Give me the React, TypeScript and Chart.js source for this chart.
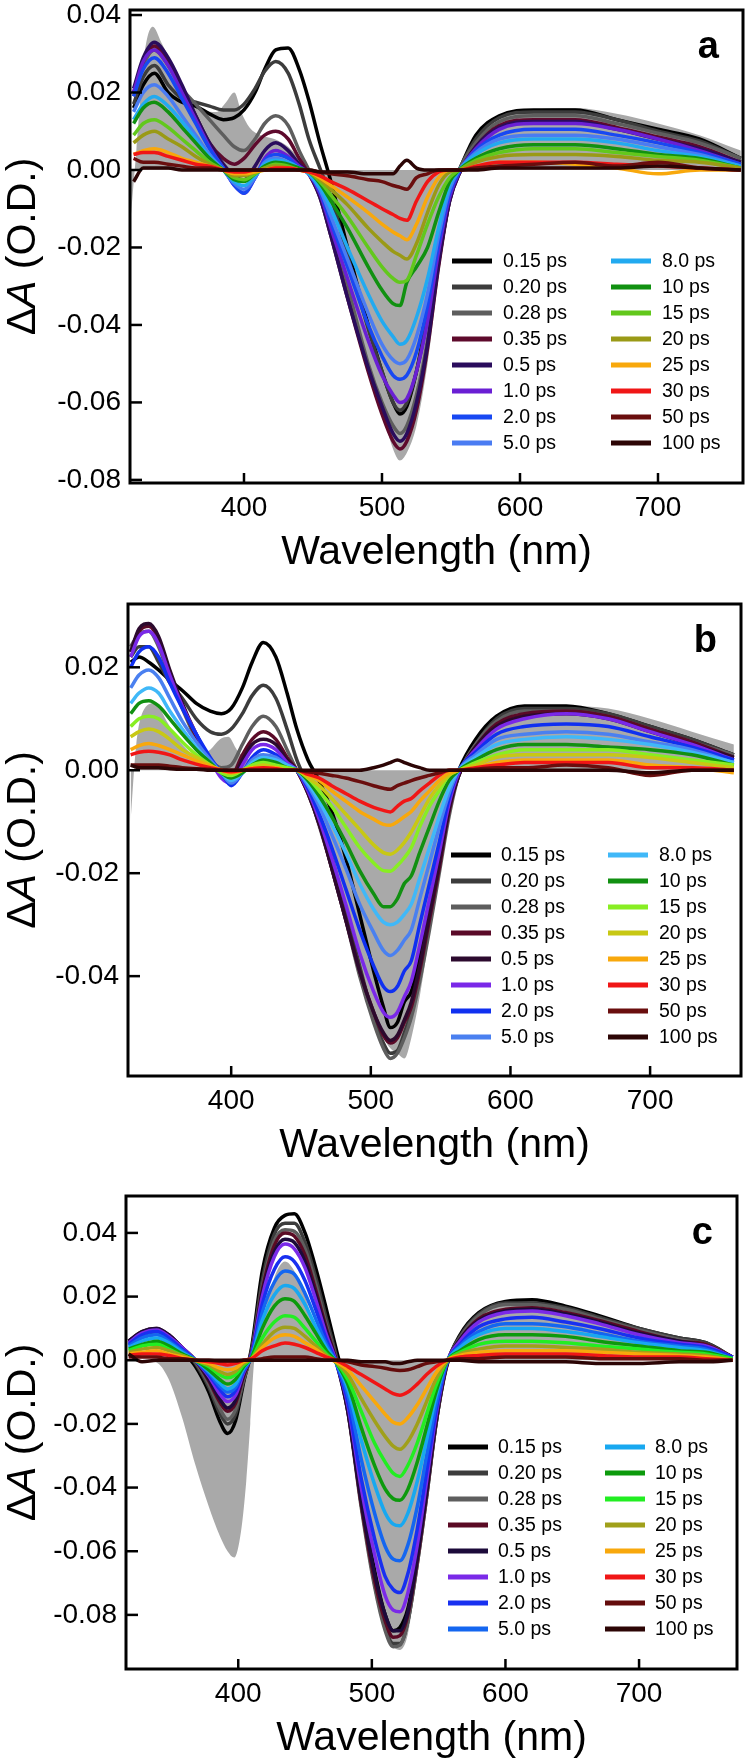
import { useEffect, useRef } from 'react';
import { Chart, registerables } from 'chart.js';

Chart.register(...registerables);

const FONT = '"Liberation Sans", Arial, Helvetica, sans-serif';
const PAGE_W = 750;
const PAGE_H = 1761;

// Pump-probe delays shown in every panel
const DELAYS = ['0.15 ps', '0.20 ps', '0.28 ps', '0.35 ps', '0.5 ps', '1.0 ps', '2.0 ps', '5.0 ps',
  '8.0 ps', '10 ps', '15 ps', '20 ps', '25 ps', '30 ps', '50 ps', '100 ps'];

const X_TICKS = [400, 500, 600, 700];
const Y_TICKS_A = [0.04, 0.02, 0, -0.02, -0.04, -0.06, -0.08];
const Y_TICKS_B = [0.02, 0, -0.02, -0.04];
const Y_TICKS_C = [0.04, 0.02, 0, -0.02, -0.04, -0.06, -0.08];

// ---------- panel a (values in mOD) ----------
const A_WL = [320, 327, 335, 345, 355, 365, 375, 385, 393, 400, 408, 415, 423, 432, 440, 447, 455, 463, 475, 490, 500, 508, 513, 518, 525, 533, 541, 549, 556, 568, 585, 610, 640, 670, 700, 730, 760];
const a_015 = [16, 22, 25, 20, 17.5, 16.5, 14.5, 13, 13.5, 15.5, 20, 26, 31, 31.5, 26, 18, 7, -3, -20, -40, -52, -60, -63, -61, -52, -37, -19, -6, 0, 9, 14, 15.5, 15.5, 13, 10.5, 8, 3];
const a_020 = [17, 24, 27, 22, 18.5, 17.5, 16.5, 15.5, 15.5, 17, 21, 25.5, 28, 25, 17, 8, 0.5, -7, -22, -41, -52, -60, -62, -60, -52, -38, -20, -6, 0, 8, 13.5, 15, 15, 13, 10, 7.5, 3];
const a_028 = [19, 27, 31, 27, 21, 17, 13, 9, 6, 5, 8, 12, 14, 11.5, 5, 0, -6, -15, -30, -50, -60, -66, -68, -66, -58, -44, -24, -8, 0, 7, 12.5, 14, 14, 12, 9.5, 7, 3];
const a_035 = [20, 28, 32, 28, 21, 14, 7, 3, 1.5, 3, 6.5, 9, 10, 8, 3, -1, -7, -17, -33, -52, -63, -70, -72, -70, -62, -46, -25, -8, -1, 6, 11.5, 13, 13, 11, 8.5, 6, 2];
const a_05 = [21, 29, 33, 29, 22, 14, 7, 1.5, -1.5, -2.5, 1, 5, 7, 5, 1.5, -1, -7, -17, -33, -51, -61, -68, -70, -68, -60, -45, -24, -8, -1, 6, 11, 12.5, 12.5, 10.5, 8, 5.5, 2];
const a_1 = [20, 28, 31, 27, 20, 13, 6, 0.5, -4, -6, -2, 3, 5, 3.5, 1, -1, -6, -15, -28, -44, -53, -58, -60, -59, -52, -39, -21, -7, -0.5, 5.5, 10.5, 12, 12, 10.5, 8, 5, 1.5];
const a_2 = [19, 26, 29, 25, 18.5, 12, 5.5, 0.5, -4, -6, -2, 2.5, 4, 3, 0.5, -1, -5.5, -13.5, -25, -40, -48, -53, -54, -53, -47, -35, -19, -6, -0.5, 5, 9, 10.5, 10.5, 9, 7, 4.5, 1.5];
const a_5 = [15, 20, 22, 19, 14, 9, 4, 0, -3.5, -5, -2, 2, 3, 2, 0.5, -1, -5, -12, -23, -37, -45, -49, -50, -49, -43, -32, -17, -5, 0, 4.5, 8, 9, 9, 8, 6, 4, 1];
const a_8 = [13, 17, 19, 16.5, 12.5, 8, 3.5, 0, -3, -4, -1.5, 1.5, 2.5, 2, 0.5, -1, -4.5, -10, -20, -32, -39, -43, -45, -44, -38, -28, -15, -4, 0, 4, 7, 8, 8, 7, 5, 3.5, 1];
const a_10 = [12, 16, 17.5, 15, 11, 7, 3, 0, -2.5, -3, -1, 1, 2, 1.5, 0.5, -0.5, -3.5, -8, -15, -25, -31, -34.5, -35, -29, -25, -20, -11, -3, 0, 3, 5.5, 6.5, 6.5, 5.5, 4, 3, 0.5];
const a_15 = [9, 12, 13, 11, 8, 5, 2, 0, -2, -2.5, -1, 0.5, 1.5, 1, 0, -0.5, -3, -6.5, -12, -20, -25, -28, -29, -28.5, -22, -14, -7, -2, 0, 2.5, 4.5, 5.5, 5.5, 4.5, 3.5, 2.5, 0.5];
const a_20 = [7, 9, 10, 8, 6, 3.5, 1.5, 0, -1.5, -1.5, -0.5, 0.5, 1, 0.5, 0, -0.5, -2.5, -5, -9, -15, -18.5, -21, -22, -23, -19, -11, -4, -0.5, 0, 2, 3.5, 4, 4, 3.5, 2.5, 2, 0.5];
const a_25 = [4, 5, 5.5, 4.5, 3, 2, 1, 0, -1, -1, -0.5, 0, 0.5, 0.5, 0, -0.5, -2, -4, -7, -11, -14, -16, -17, -18, -14, -7, -2, 0, 0, 1, 2, 2, 1.5, 0.5, -1, 0, 0];
const a_30 = [4, 4.5, 4.5, 3.5, 2.5, 1.5, 1, 0, -0.5, -0.5, 0, 0, 0.5, 0.5, 0, -0.5, -1.5, -3, -5, -8, -10, -11.5, -12.5, -13, -8, -3, -0.5, 0, 0, 1, 2, 2, 2, 1.5, 1, 0.5, 0];
const a_50 = [3, 2, 2, 1.5, 1, 0.5, 0.5, 0, 0, 0, 0, 0, 0, 0, 0, 0, -0.5, -1, -1.5, -2.5, -3, -4, -4.5, -5, -2, -1, 0, 0, 0, 0.5, 1, 1.5, 2, 1, 2, 0.5, 0];
const a_100 = [-3, 0.5, 0.5, 0.5, 0, 0, 0, 0, 0, 0, 0, 0, 0, 0, 0, 0, -0.5, -0.5, -0.5, -1, -1, -1, 1, 2.5, 0.5, 0, 0, 0, 0, 0, 0.5, 0.5, 0.5, 0.5, 1, 0.5, 0];
// steady-state reference drawn as grey area
const A_GS_WL = [318, 322, 328, 334, 340, 350, 360, 370, 380, 387, 393, 398, 404, 412, 422, 432, 440, 447, 455, 463, 475, 490, 500, 508, 513, 518, 525, 533, 541, 549, 556, 568, 585, 610, 640, 670, 700, 730, 760];
const A_GS = [-12, 5, 30, 37, 33, 26, 19, 15.5, 15, 17.5, 20, 15, 11, 9, 8, 6, 3, 0, -6, -14, -29, -50, -62, -72, -75, -73, -66, -50, -28, -10, -1, 7, 13, 15.5, 16, 14.5, 12, 9, 5];

// ---------- panel b ----------
const B_WL = [328, 334, 341, 348, 356, 365, 375, 385, 393, 400, 408, 415, 423, 432, 440, 447, 455, 463, 472, 482, 492, 502, 509, 514, 519, 524, 529, 535, 542, 549, 556, 563, 575, 590, 610, 640, 670, 700, 730, 760];
const b_015 = [21, 22, 21, 19.5, 17.5, 15.5, 13, 11.5, 11, 12, 16, 21, 24.8, 22, 15, 8, 2, -2, -8, -17, -28, -39, -46, -50, -49, -45, -43, -36, -26, -16, -6, 0, 6, 10.5, 12.5, 12.5, 11, 8.5, 6, 3];
const b_020 = [22, 24, 24, 21, 17, 14, 10, 7.5, 7, 8, 11, 14.5, 16.5, 14, 8, 2, -3, -9, -17, -27, -38, -48, -53, -55, -54.5, -51, -47, -40, -30, -19, -8, -1, 5, 10, 12, 12, 11, 8.5, 6, 3];
const b_028 = [24, 26.5, 27, 24, 18, 12, 6, 2, 0.5, 1, 5, 8.5, 10.5, 8.5, 4, 0, -4, -10, -19, -29, -40, -49, -54, -56, -55, -52, -48, -41, -31, -20, -9, -1, 5, 9.5, 11.5, 11.5, 10.5, 8, 5.5, 3];
const b_035 = [23, 27, 28, 25.5, 19, 12.5, 6.5, 2, -0.5, -1, 3, 6, 7.5, 6, 2.5, 0, -4.5, -10.5, -19, -29, -39, -47, -51.5, -53, -52, -49, -46, -39, -29, -19, -8, -1, 4.5, 9, 11, 11.5, 10.5, 8, 5.5, 2.5];
const b_05 = [23, 27.5, 28.5, 26, 19.5, 13, 7, 2, -1, -2, 2, 5, 6, 5, 2, 0, -4.5, -10.5, -19, -29, -39, -47, -51, -52.5, -51.5, -48.5, -45, -38, -28, -18, -7.5, -1, 4.5, 8.5, 10.5, 11, 10, 7.5, 5, 2.5];
const b_1 = [22, 26, 27, 24.5, 18.5, 12.5, 7, 2, -1.5, -2.5, 1, 4, 5, 4, 1.5, 0, -4, -9.5, -17, -26, -35.5, -43, -47, -48, -47, -44, -41, -34, -25, -16, -6.5, -0.5, 4, 8, 10, 11, 10, 7.5, 5, 2];
const b_2 = [20, 23, 24, 22, 17, 12, 7, 2.5, -0.5, -3, -0.5, 2.5, 4, 3, 1, 0, -3.5, -8.5, -15, -23, -31, -38, -42, -43, -42, -39, -37, -30, -22, -14, -5.5, 0, 3.5, 7, 8.5, 9, 8.5, 6.5, 4.5, 2];
const b_5 = [16, 18.5, 19.5, 18, 14, 9.5, 5.5, 2, -0.5, -2.5, -0.5, 2, 3, 2.5, 1, 0, -3, -7, -12.5, -19, -26, -31.5, -35, -36, -35, -33, -31, -25, -18, -11, -4.5, 0, 3, 6, 7, 7.5, 7, 5.5, 4, 1.5];
const b_8 = [13, 15, 16, 15, 11.5, 8, 4.5, 1.5, -0.5, -2, -0.5, 1.5, 2.5, 2, 1, 0, -2.5, -6, -10.5, -16, -22, -27, -29.5, -30, -29.5, -28, -26, -21, -15, -9, -3.5, 0, 2.5, 5, 6, 6.5, 6, 5, 3.5, 1.5];
const b_10 = [11, 13, 13.5, 12.5, 10, 7, 4, 1.5, -0.5, -1.5, -0.5, 1, 2, 1.5, 0.5, 0, -2, -5, -9, -14, -19.5, -24, -26.5, -26.5, -25, -22, -20.5, -16, -11, -6, -2, 0, 2, 4, 5, 5, 4.5, 4, 3, 1];
const b_15 = [8.5, 10, 10.5, 10, 8, 5.5, 3, 1, -0.5, -1, 0, 1, 1.5, 1, 0.5, 0, -1.5, -4, -7, -11, -15, -18, -19.5, -19.6, -18.5, -17, -15, -11, -7, -4, -1, 0, 1.5, 3, 4, 4, 4, 3, 2, 1];
const b_20 = [6.5, 7.5, 8, 7.5, 6, 4, 2.5, 1, 0, -0.5, 0, 0.5, 1, 0.5, 0, 0, -1.5, -3, -5.5, -8.5, -11.5, -14.5, -16, -16.3, -15.5, -14, -12, -9, -5.5, -3, -1, 0, 1, 2.5, 3, 3, 3, 2.5, 1.5, 0.5];
const b_25 = [4, 4.8, 5.2, 4.8, 4, 3, 1.8, 0.8, 0, -0.5, 0, 0.5, 0.5, 0.5, 0, 0, -1, -2, -4, -6, -8, -9.5, -10.5, -10.7, -10, -9, -8, -6, -4, -2, -0.5, 0, 0.5, 1.5, 2, 2, 2, 1, 0.5, -0.5];
const b_30 = [3, 3.5, 3.7, 3.5, 3, 2, 1.2, 0.5, 0, -0.3, 0, 0.3, 0.5, 0.3, 0, 0, -0.8, -1.5, -3, -4.5, -6, -7.2, -7.8, -8.1, -7, -6, -5.5, -4, -2.5, -1, 0, 0, 0.5, 1, 1.5, 1.5, 1.5, 0.5, 0.5, 0];
const b_50 = [1, 1, 1, 1, 0.8, 0.5, 0.3, 0.2, 0, 0, 0, 0, 0, 0, 0, 0, -0.3, -0.6, -1, -1.5, -2.2, -3, -3.5, -3.7, -3, -2.5, -2, -1.5, -1, -0.5, 0, 0, 0.2, 0.5, 0.5, 1, 0.5, -1, 0, 0];
const b_100 = [1, 0.5, 0.5, 0.5, 0.3, 0.2, 0.2, 0, 0, 0, 0, 0, 0, 0, 0, 0, 0, 0, 0, 0, 0, 0.5, 1, 1.5, 2, 1.5, 1, 0.5, 0, 0, 0, 0, 0, 0, 0, 0, 0, -0.5, 0, 0];
const B_GS_WL = [328, 332, 338, 345, 355, 365, 375, 385, 392, 398, 404, 410, 420, 432, 440, 447, 455, 463, 472, 482, 492, 502, 509, 514, 519, 524, 529, 535, 542, 549, 556, 563, 575, 590, 610, 640, 670, 700, 730, 760];
const B_GS = [-10, 5, 12, 13, 9, 5, 3, 4, 6, 6.5, 4, 2.5, 1.5, 1, 0.5, 0, -5, -12, -20, -30, -40, -48, -52, -54, -55, -56, -52, -44, -32, -20, -8, 0, 6, 10.5, 12, 12.5, 12, 10, 7.5, 5];

// ---------- panel c ----------
const C_WL = [318, 328, 339, 348, 358, 368, 378, 386, 392, 398, 404, 410, 418, 427, 435, 442, 450, 458, 466, 473, 482, 492, 502, 510, 516, 521, 527, 534, 541, 548, 556, 566, 580, 600, 620, 645, 670, 700, 730, 750, 770];
const c_015 = [6, 8, 9, 7, 3, -2, -10, -19, -23, -19, -7, 4, 28, 41.5, 45.5, 46, 40, 29, 16, 4, -12, -42, -66, -80, -85, -84, -78, -62, -42, -20, -2, 8, 15, 18.5, 19, 17, 14, 10, 7, 5.5, 1];
const c_020 = [6, 8.5, 9.5, 7.5, 3.5, -1, -8.5, -16.5, -20, -17, -6.5, 3, 25, 39.5, 43, 43, 37, 26, 13, 2, -15, -45, -70, -84, -89, -89, -82, -64, -43, -20, -1.5, 7.5, 14.5, 18, 18, 16.5, 13.5, 10, 7, 5.5, 1];
const c_028 = [6, 8.5, 9.5, 7.5, 3.5, -0.5, -7.5, -15, -18.5, -15.5, -6, 2.5, 23, 37.5, 41, 40.5, 35, 24, 11, 1, -16, -46, -71, -85, -90, -89.5, -82, -64, -43, -20, -1.5, 7, 14, 17.5, 17.5, 16, 13, 9.5, 6.5, 5, 1];
const c_035 = [6, 9, 10, 8, 4, 0, -6.5, -13, -16, -13.5, -5, 2, 22, 36, 40, 39, 33, 22, 10, 0.5, -16, -45, -69, -82, -87, -86.5, -80, -63, -42, -19.5, -1.5, 6.5, 13, 16, 16.5, 15, 12.5, 9, 6, 5, 1];
const c_05 = [6, 9, 10, 8, 4, 0, -6, -12, -15, -12.5, -4.5, 2, 21, 34, 38, 37, 31, 20.5, 9, 0, -16, -44, -67, -80, -85, -85, -79, -62, -41, -19, -1.5, 6.5, 12.5, 15.5, 16, 14.5, 12, 8.5, 6, 4.5, 1];
const c_1 = [5.5, 8.5, 9.5, 7.5, 4, 0, -5, -10.5, -13, -11, -4, 2, 20, 32.5, 36.5, 35, 29, 19, 8, 0, -14, -40, -61, -74, -78.5, -79, -73, -58, -38, -17.5, -1, 6, 12, 15, 15.5, 14, 11.5, 8, 5.5, 4.5, 1];
const c_2 = [5, 8, 9, 7, 3.5, 0, -4.5, -9, -11.5, -9.5, -3.5, 1.5, 17.5, 28.5, 32.5, 31, 25, 16, 6.5, -0.5, -13, -37, -56, -68, -72, -73, -67, -53, -35, -16, -1, 5, 10.5, 13, 13.5, 12, 10, 7, 5, 4, 1];
const c_5 = [4.5, 7, 8, 6, 3, 0, -4, -8, -10, -8.5, -3, 1, 15, 24.5, 28, 27, 21, 13, 5, -0.5, -11, -31, -48, -58.5, -62.5, -63, -58, -46, -30, -14, -1, 4.5, 9, 11.5, 11.5, 10.5, 8.5, 6, 4.5, 3.5, 0.5];
const c_8 = [4, 6, 7, 5.5, 2.5, 0, -3.5, -7, -9, -7.5, -2.5, 1, 12.5, 20.5, 23.5, 22.5, 17.5, 10.5, 4, -0.5, -9, -25, -39, -48, -51.5, -52, -48, -38, -25, -11.5, -0.5, 4, 8, 10, 10, 9, 7.5, 5.5, 4, 3, 0.5];
const c_10 = [3.5, 5, 6, 4.5, 2, 0, -3, -6, -7.5, -6, -2, 1, 10, 17, 19.3, 18.5, 14, 8.5, 3, -0.5, -7.5, -21, -33, -40.5, -43.5, -44, -40.5, -32, -21, -10, -0.5, 3, 6.5, 8, 8, 7.5, 6, 4.5, 3, 2.5, 0.5];
const c_15 = [3, 4.5, 5, 3.5, 1.5, 0, -2, -4.5, -5.5, -4.5, -1.5, 0.5, 7, 12, 14, 13.5, 10, 6, 2, -0.5, -6, -16, -26, -32, -35.5, -36.5, -33, -26, -17, -8, -0.5, 2.5, 5, 6, 6, 5.5, 4.5, 3.5, 2.5, 2, 0.5];
const c_20 = [2.5, 3.5, 4, 3, 1.5, 0, -1.5, -3.5, -4.5, -3.5, -1, 0.5, 5, 9, 10.4, 10, 7.5, 4.5, 1.5, -0.5, -4.5, -12, -19, -24, -27, -28, -25.5, -20, -13, -6, -0.5, 2, 3.5, 4.5, 4.5, 4, 3.5, 2.5, 2, 1.5, 0];
const c_25 = [2, 2.5, 3, 2, 1, 0, -1, -2.5, -3, -2.5, -0.5, 0.5, 4, 7, 8, 7.5, 5.5, 3.5, 1, -0.5, -3, -8, -13, -17, -19.5, -20, -18, -14, -9, -4, 0, 1.5, 2.5, 3, 3, 3, 2.5, 2, 1.5, 1, 0];
const c_30 = [1.5, 2, 2, 1.5, 0.5, 0, -0.5, -1, -1.5, -1, 0, 0.5, 3, 4.5, 5.4, 5, 4, 2.5, 1, 0, -2, -4.5, -7, -9, -10.5, -11, -10, -7.5, -4.5, -2, 0, 1, 1.5, 2, 2, 2, 1.5, 1, 1, 0.5, 0];
const c_50 = [1, 1, 1, 0.5, 0.5, 0, 0, -0.3, -0.3, -0.3, 0, 0, 0.5, 1, 1, 1, 1, 0.5, 0, 0, -0.5, -1.5, -2, -2.5, -3, -3.2, -3, -2, -1, -0.5, 0, 0.5, 0.5, 1, 1, 1, 0.5, 0.5, 0.5, 0, 0];
const c_100 = [2, -0.5, 0, 0, 0, 0, 0, 0, 0, 0, 0, 0, 0, 0, 0, 0, 0, 0, 0, 0, 0, -0.5, -0.5, -0.5, -1, -1, -0.5, 0, 0, 0, 0, 0, -0.5, -0.5, -0.5, -0.5, -1, -1, -0.5, -0.5, 0];
const C_GS_WL = [318, 330, 340, 348, 358, 368, 378, 386, 392, 397, 402, 406, 409, 412, 418, 427, 435, 442, 450, 458, 466, 473, 482, 492, 502, 510, 516, 521, 527, 534, 541, 548, 556, 566, 580, 600, 620, 645, 670, 700, 730, 750, 770];
const C_GS = [0, 0, -1, -6, -18, -33, -46, -55, -60, -62, -54, -38, -20, 0, 12, 26, 31, 28, 20, 10, 3, -1, -18, -48, -72, -86, -90, -91, -86, -66, -44, -20, -1, 7, 14, 18, 18.5, 17, 14, 10, 7, 5, 1];

// trace colours, one per delay
const COLORS_A = ['#000000', '#3c3c3c', '#5e5e5e', '#5e0a2c', '#2a0c5c', '#6a1fd4', '#1848f2', '#4a7cf2',
  '#22aaf0', '#119111', '#62c81c', '#9a9a16', '#f8a80c', '#f01616', '#6a0e0e', '#2c0505'];
const COLORS_B = ['#000000', '#3c3c3c', '#5e5e5e', '#5a0a28', '#2c0a2e', '#7a28e8', '#1030f0', '#4a80f0',
  '#40b8f8', '#119011', '#88ee22', '#c8c814', '#f8a80c', '#f01616', '#6a0e0e', '#2c0505'];
const COLORS_C = ['#000000', '#3c3c3c', '#5e5e5e', '#5a0a24', '#1c0a3a', '#7a2ae8', '#1830f0', '#1466f0',
  '#18a8f0', '#0c9a0c', '#22ee22', '#a0a01a', '#f8a80c', '#f01616', '#640c0c', '#2c0505'];
const GS_COLOR = '#a9a9a9';

type Panel = {
  letter: string;
  wl: number[];
  series: number[][];
  colors: string[];
  gsWl: number[];
  gs: number[];
  yTicks: number[];
  xMin: number; xMax: number; yMin: number; yMax: number;
  top: number; bottom: number; left: number; right: number;
  legendX: [number, number, number, number];
};

const PANELS: Panel[] = [
  {
    letter: 'a', wl: A_WL,
    series: [a_015, a_020, a_028, a_035, a_05, a_1, a_2, a_5, a_8, a_10, a_15, a_20, a_25, a_30, a_50, a_100],
    colors: COLORS_A, gsWl: A_GS_WL, gs: A_GS, yTicks: Y_TICKS_A,
    xMin: 317.4, xMax: 761.6, yMin: -0.0808, yMax: 0.0413,
    top: 10, bottom: 483, left: 130, right: 743,
    legendX: [452, 503, 611, 662],
  },
  {
    letter: 'b', wl: B_WL,
    series: [b_015, b_020, b_028, b_035, b_05, b_1, b_2, b_5, b_8, b_10, b_15, b_20, b_25, b_30, b_50, b_100],
    colors: COLORS_B, gsWl: B_GS_WL, gs: B_GS, yTicks: Y_TICKS_B,
    xMin: 326.1, xMax: 765.1, yMin: -0.0594, yMax: 0.0323,
    top: 604, bottom: 1076, left: 128, right: 741,
    legendX: [451, 501, 608, 659],
  },
  {
    letter: 'c', wl: C_WL,
    series: [c_015, c_020, c_028, c_035, c_05, c_1, c_2, c_5, c_8, c_10, c_15, c_20, c_25, c_30, c_50, c_100],
    colors: COLORS_C, gsWl: C_GS_WL, gs: C_GS, yTicks: Y_TICKS_C,
    xMin: 316, xMax: 773.3, yMin: -0.097, yMax: 0.0516,
    top: 1196, bottom: 1669, left: 126, right: 737,
    legendX: [448, 498, 605, 655],
  },
];

const TOP_PAD = 30;

function canvasGeom(p: Panel) {
  const top = p.top - TOP_PAD;
  const height = Math.min(600, PAGE_H - top);
  return { top, height };
}

// frame, inward ticks, titles, panel letter and two-column legend
function decorPlugin(p: Panel) {
  return {
    id: 'decor_' + p.letter,
    afterDraw(chart: any) {
      const { ctx, chartArea: ca, scales } = chart;
      const xs = scales.x;
      const ys = scales.y;
      ctx.save();
      ctx.strokeStyle = '#000';
      ctx.lineWidth = 2.5;
      ys.ticks.forEach((t: any) => {
        const y = ys.getPixelForValue(t.value);
        ctx.beginPath();
        ctx.moveTo(ca.left, y);
        ctx.lineTo(ca.left + 12, y);
        ctx.stroke();
      });
      xs.ticks.forEach((t: any) => {
        const x = xs.getPixelForValue(t.value);
        ctx.beginPath();
        ctx.moveTo(x, ca.bottom);
        ctx.lineTo(x, ca.bottom - 10);
        ctx.stroke();
      });
      ctx.lineWidth = 3;
      ctx.strokeRect(ca.left, ca.top, ca.right - ca.left, ca.bottom - ca.top);

      ctx.fillStyle = '#000';
      // x title
      ctx.font = `41px ${FONT}`;
      ctx.textAlign = 'center';
      ctx.textBaseline = 'alphabetic';
      ctx.fillText('Wavelength (nm)', (ca.left + ca.right) / 2, ca.bottom + 81);

      // y title: ΔA (O.D.) with italic A
      const parts = [
        { t: '\u0394', f: `41px ${FONT}` },
        { t: 'A', f: `italic 41px ${FONT}` },
        { t: ' (O.D.)', f: `41px ${FONT}` },
      ];
      let total = 0;
      const widths = parts.map((pt) => { ctx.font = pt.f; const w = ctx.measureText(pt.t).width; total += w; return w; });
      ctx.save();
      ctx.translate(35, (ca.top + ca.bottom) / 2);
      ctx.rotate(-Math.PI / 2);
      ctx.textAlign = 'left';
      let x = -total / 2;
      parts.forEach((pt, i) => { ctx.font = pt.f; ctx.fillText(pt.t, x, 0); x += widths[i]; });
      ctx.restore();

      // panel letter
      ctx.font = `bold 38px ${FONT}`;
      ctx.textAlign = 'right';
      ctx.fillText(p.letter, ca.right - 24, ca.top + 47.5);

      // legend
      ctx.font = `19.5px ${FONT}`;
      ctx.textAlign = 'left';
      ctx.textBaseline = 'middle';
      ctx.lineWidth = 5;
      ctx.lineCap = 'butt';
      DELAYS.forEach((label, i) => {
        const col = i < 8 ? 0 : 1;
        const row = i % 8;
        const y = ca.top + 251 + row * 26;
        const sx = p.legendX[col * 2];
        const tx = p.legendX[col * 2 + 1];
        ctx.strokeStyle = p.colors[i];
        ctx.beginPath();
        ctx.moveTo(sx, y);
        ctx.lineTo(sx + 40, y);
        ctx.stroke();
        ctx.fillStyle = '#000';
        ctx.fillText(label, tx, y + 1);
      });
      ctx.restore();
    },
  };
}

function buildConfig(p: Panel): any {
  const { height } = canvasGeom(p);
  const relBottom = p.bottom - (p.top - TOP_PAD);
  const tickFont = { family: FONT, size: 28 };
  const datasets: any[] = [
    {
      label: 'steady state',
      data: p.gsWl.map((x, i) => ({ x, y: p.gs[i] / 1000 })),
      borderWidth: 0,
      borderColor: GS_COLOR,
      backgroundColor: GS_COLOR,
      fill: 'origin',
      pointRadius: 0,
      cubicInterpolationMode: 'monotone',
      order: 100,
    },
    ...p.series.map((vals, i) => ({
      label: DELAYS[i],
      data: p.wl.map((x, j) => ({ x, y: vals[j] / 1000 })),
      borderColor: p.colors[i],
      backgroundColor: p.colors[i],
      borderWidth: 3.5,
      fill: false,
      pointRadius: 0,
      cubicInterpolationMode: 'monotone',
      order: 16 - i,
    })),
  ];
  return {
    type: 'line',
    data: { datasets },
    options: {
      animation: false,
      responsive: false,
      maintainAspectRatio: false,
      devicePixelRatio: 1,
      layout: { padding: { top: TOP_PAD, left: 0, right: PAGE_W - p.right, bottom: 0 } },
      plugins: { legend: { display: false }, tooltip: { enabled: false }, title: { display: false } },
      scales: {
        x: {
          type: 'linear',
          min: p.xMin,
          max: p.xMax,
          grid: { display: false, drawTicks: false },
          border: { display: false },
          ticks: { font: tickFont, color: '#000', padding: 8, maxRotation: 0 },
          afterBuildTicks: (s: any) => { s.ticks = X_TICKS.map((v) => ({ value: v })); },
          afterFit: (s: any) => { s.height = height - relBottom; },
        },
        y: {
          type: 'linear',
          min: p.yMin,
          max: p.yMax,
          grid: { display: false, drawTicks: false },
          border: { display: false },
          ticks: { font: tickFont, color: '#000', padding: 9, callback: (v: any) => Number(v).toFixed(2) },
          afterBuildTicks: (s: any) => { s.ticks = p.yTicks.map((v) => ({ value: v })); },
          afterFit: (s: any) => { s.width = p.left; },
        },
      },
    },
    plugins: [decorPlugin(p)],
  };
}

function SpectraPanel({ panel }: { panel: Panel }) {
  const ref = useRef<HTMLCanvasElement>(null);
  useEffect(() => {
    if (!ref.current) return;
    const chart = new Chart(ref.current, buildConfig(panel));
    return () => chart.destroy();
  }, [panel]);
  const { top, height } = canvasGeom(panel);
  return (
    <canvas
      ref={ref}
      width={PAGE_W}
      height={height}
      style={{ position: 'absolute', left: 0, top, width: PAGE_W, height }}
    />
  );
}

export default function App() {
  return (
    <div style={{ position: 'absolute', left: 0, top: 0, width: PAGE_W, height: PAGE_H, background: '#fff', overflow: 'hidden' }}>
      {PANELS.map((p) => <SpectraPanel key={p.letter} panel={p} />)}
    </div>
  );
}
